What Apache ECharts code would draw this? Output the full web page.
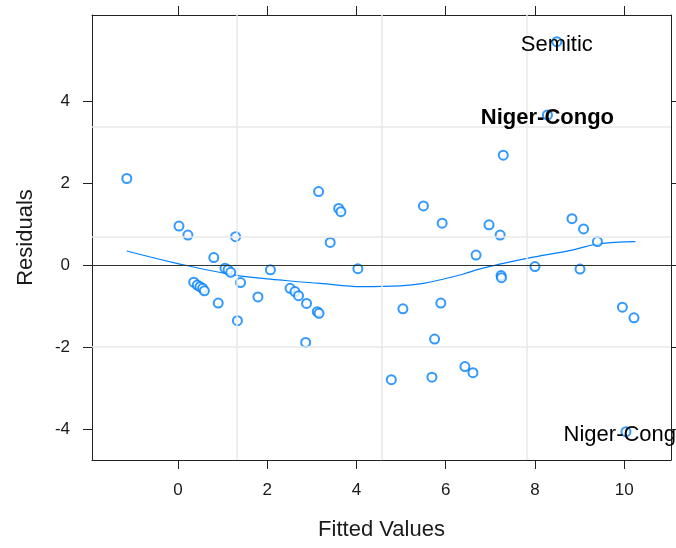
<!DOCTYPE html>
<html>
<head>
<meta charset="utf-8">
<script src="https://cdn.jsdelivr.net/npm/echarts@6/dist/echarts.min.js"></script>
<style>
  html, body { margin: 0; padding: 0; background: #fff; }
  #plot { width: 676px; height: 548px; }
</style>
</head>
<body>
<div id="plot"></div>
<script>
// fitted values and residuals
var fittedX = [-1.15, 0.02, 0.22, 1.29, 0.80, 1.05, 1.12, 1.18, 2.07, 0.35,
  0.43, 0.49, 0.55, 0.59, 1.40, 1.79, 0.90, 1.33, 2.51, 3.15,
  3.60, 3.65, 3.41, 4.03, 5.50, 5.92, 6.68, 2.62, 2.70, 2.88,
  3.12, 3.16, 2.86, 5.04, 5.89, 5.75, 4.78, 5.69, 6.43, 6.61,
  7.29, 6.97, 7.22, 7.24, 7.25, 8.00, 8.83, 9.09, 9.40, 9.01,
  9.96, 10.22];
var residY = [2.11, 0.95, 0.73, 0.69, 0.18, -0.08, -0.12, -0.18, -0.12, -0.42,
  -0.49, -0.53, -0.57, -0.63, -0.43, -0.78, -0.93, -1.36, -0.57, 1.79,
  1.38, 1.30, 0.55, -0.09, 1.44, 1.02, 0.24, -0.65, -0.75, -0.94,
  -1.14, -1.18, -1.89, -1.07, -0.93, -1.81, -2.80, -2.74, -2.48, -2.63,
  2.68, 0.98, 0.73, -0.26, -0.31, -0.04, 1.13, 0.88, 0.57, -0.10,
  -1.03, -1.29];

// labelled outliers
var labelNames = ['Semitic', 'Niger-Congo', 'Niger-Congo'];
var labelX = [8.49, 8.28, 10.04];
var labelY = [5.45, 3.66, -4.07];
var labelBold = [false, true, false];

// smoother curve
var loessX = [-1.15, -0.03, 1.24, 2.40, 3.18, 4.12, 4.98, 5.50, 6.00, 6.40, 6.75, 7.14, 7.82, 8.86, 9.39, 10.25];
var loessY = [0.34, 0.04, -0.24, -0.38, -0.45, -0.53, -0.51, -0.45, -0.33, -0.22, -0.10, 0.00, 0.16, 0.37, 0.51, 0.57];

var tickX = [0, 2, 4, 6, 8, 10];
var tickY = [-4, -2, 0, 2, 4];
var refX = [1.32, 4.57, 7.82];
var refY = [-2.0, 0.68, 3.37];

var blue = '#0080ff';
var font = 'Liberation Sans';

var myChart = echarts.init(document.getElementById('plot'));

var points = fittedX.map(function (v, i) { return [v, residY[i]]; });
var loess = loessX.map(function (v, i) { return [v, loessY[i]]; });
var labelled = labelX.map(function (v, i) {
  return {
    value: [v, labelY[i]],
    name: labelNames[i],
    label: { fontWeight: labelBold[i] ? 'bold' : 'normal' }
  };
});

var gridLines = refX.map(function (v) { return { xAxis: v }; })
  .concat(refY.map(function (v) { return { yAxis: v }; }));

function xAx(pos, labels) {
  return {
    type: 'value', position: pos, min: -1.93, max: 11.05,
    name: labels ? 'Fitted Values' : '', nameLocation: 'middle', nameGap: 59,
    nameTextStyle: { fontFamily: font, fontSize: 22, color: '#1a1a1a' },
    axisLine: { show: true, onZero: false, lineStyle: { color: '#222', width: 1 } },
    axisTick: { show: true, inside: false, length: 9, customValues: tickX, lineStyle: { color: '#222' } },
    axisLabel: { show: labels, customValues: tickX, margin: 22, fontFamily: font, fontSize: 17, color: '#1a1a1a' },
    splitLine: { show: false }
  };
}
function yAx(pos, labels) {
  return {
    type: 'value', position: pos, min: -4.76, max: 6.1,
    name: labels ? 'Residuals' : '', nameLocation: 'middle', nameGap: 55,
    nameTextStyle: { fontFamily: font, fontSize: 22, color: '#1a1a1a' },
    axisLine: { show: true, onZero: false, lineStyle: { color: '#222', width: 1 } },
    axisTick: { show: true, inside: false, length: 9, customValues: tickY, lineStyle: { color: '#222' } },
    axisLabel: { show: labels, customValues: tickY, margin: 22, fontFamily: font, fontSize: 17, color: '#1a1a1a' },
    splitLine: { show: false }
  };
}

var option = {
  animation: false,
  backgroundColor: '#fff',
  grid: { left: 92, right: 5, top: 15, bottom: 88 },
  xAxis: [xAx('bottom', true), xAx('top', false)],
  yAxis: [yAx('left', true), yAx('right', false)],
  series: [
    {
      type: 'line', z: 1, silent: true,
      data: [],
      markLine: {
        silent: true, symbol: 'none', animation: false,
        label: { show: false },
        lineStyle: { color: '#e8e8e8', width: 1.5, type: 'solid' },
        data: gridLines
      }
    },
    {
      type: 'line', z: 2, silent: true,
      data: [],
      markLine: {
        silent: true, symbol: 'none', animation: false,
        label: { show: false },
        lineStyle: { color: '#333', width: 1.2, type: 'solid' },
        data: [{ yAxis: 0 }]
      }
    },
    {
      name: 'loess', type: 'line', z: 3, data: loess,
      smooth: 0.4, showSymbol: false,
      lineStyle: { color: blue, width: 1.2 }
    },
    {
      name: 'residuals', type: 'scatter', z: 4, data: points,
      symbol: 'emptyCircle', symbolSize: 9,
      itemStyle: { color: blue, borderColor: blue, borderWidth: 1.2 }
    },
    {
      name: 'labelled', type: 'scatter', z: 5, data: labelled,
      symbol: 'emptyCircle', symbolSize: 9,
      itemStyle: { color: blue, borderColor: blue, borderWidth: 1.2 },
      label: {
        show: true, position: 'inside', offset: [0, 3],
        formatter: '{b}', fontFamily: font, fontSize: 22,
        color: '#000', textBorderWidth: 0, opacity: 1
      }
    }
  ]
};

myChart.setOption(option);

window.onresize = function () {
  myChart.resize();
};
</script>
</body>
</html>
